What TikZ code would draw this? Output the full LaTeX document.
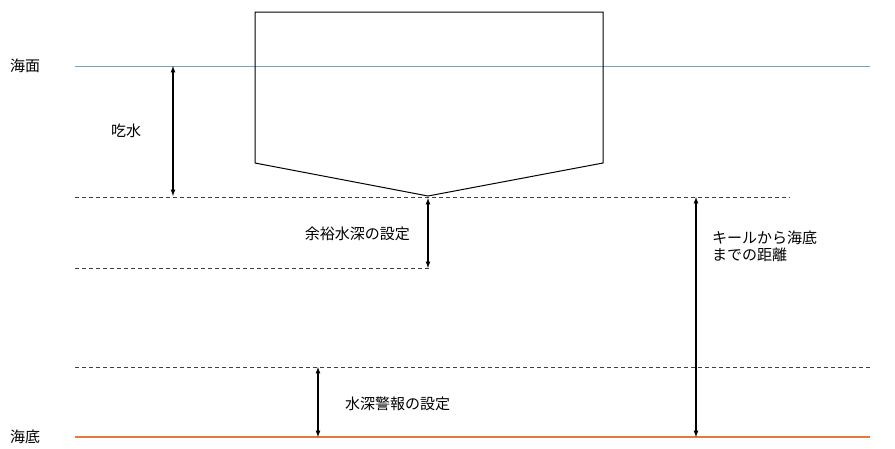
\documentclass[tikz,border=0pt]{standalone}
\usepackage{fontspec}
\setmainfont{Noto Sans CJK JP}
\begin{document}
\begin{tikzpicture}[x=1pt,y=-1pt,
  dashln/.style={black!75,line width=0.7pt,dash pattern=on 4pt off 3pt},
  dim/.style={<->,>=latex,line width=1.2pt},
  lbl/.style={font=\fontsize{15}{17}\selectfont,inner sep=0pt}]
\useasboundingbox[fill=white] (0,0) rectangle (895,448);
\draw[color={rgb,255:red,120;green,160;blue,200},line width=1pt] (75,66) -- (870,66);
\draw[color={rgb,255:red,230;green,120;blue,60},line width=1.5pt] (75,437) -- (870,437);
\draw[line width=1pt] (255,163) -- (255,12) -- (603,12) -- (603,163) -- (428,196) -- cycle;
\draw[dashln] (75,197) -- (790,197);
\draw[dashln] (75,268) -- (430,268);
\draw[dashln] (75,367) -- (870,367);
\coordinate (a1) at (173,66); \coordinate (a2) at (173,196);
\coordinate (b1) at (428,198); \coordinate (b2) at (428,268);
\coordinate (c1) at (696,197); \coordinate (c2) at (696,437);
\coordinate (d1) at (318,367); \coordinate (d2) at (318,437);
\draw[dim] (a1) -- (a2);
\draw[dim] (b1) -- (b2);
\draw[dim] (c1) -- (c2);
\draw[dim] (d1) -- (d2);
\node[lbl,anchor=west] (s) at (10,66) {海面};
\node[lbl,anchor=west] (t) at (10,437) {海底};
\node[lbl,anchor=west] (l1) at (111,131) {吃水};
\node[lbl,anchor=east] (l2) at (410,234) {余裕水深の設定};
\node[lbl,anchor=west,align=left] (l3) at (712,246) {キールから海底\\までの距離};
\node[lbl,anchor=west] (l4) at (345,404) {水深警報の設定};
\end{tikzpicture}
\end{document}
